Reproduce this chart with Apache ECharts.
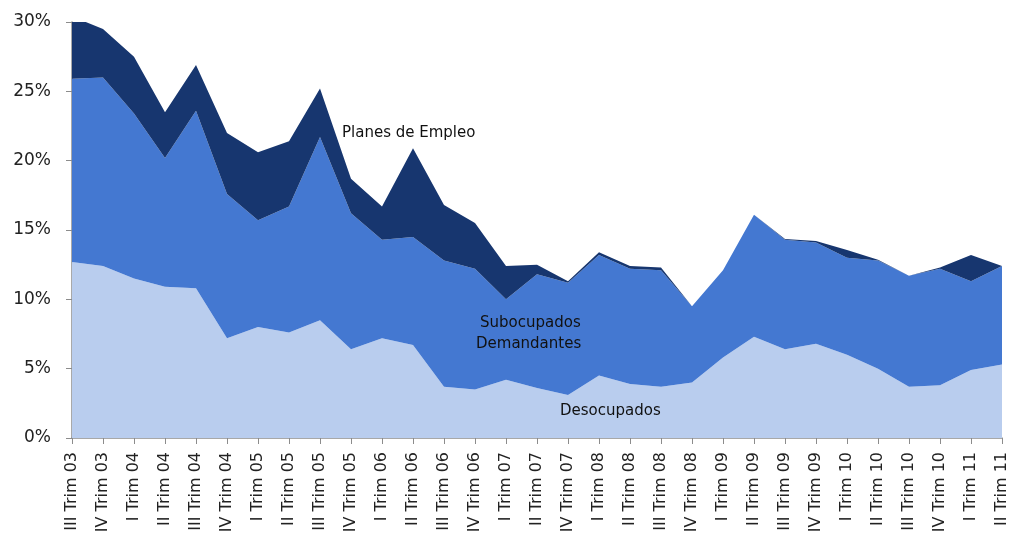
<!DOCTYPE html>
<html>
<head>
<meta charset="utf-8">
<script src="https://cdn.jsdelivr.net/npm/echarts@6/dist/echarts.min.js"></script>
<style>
  html, body { margin: 0; padding: 0; background: #fff; }
  #chart { width: 1017px; height: 542px; }
</style>
</head>
<body>
<div id="chart"></div>
<script>
// trimestres (falta III Trim 07)
var trimestres = [
  'III Trim 03', 'IV Trim 03',
  'I Trim 04', 'II Trim 04', 'III Trim 04', 'IV Trim 04',
  'I Trim 05', 'II Trim 05', 'III Trim 05', 'IV Trim 05',
  'I Trim 06', 'II Trim 06', 'III Trim 06', 'IV Trim 06',
  'I Trim 07', 'II Trim 07', 'IV Trim 07',
  'I Trim 08', 'II Trim 08', 'III Trim 08', 'IV Trim 08',
  'I Trim 09', 'II Trim 09', 'III Trim 09', 'IV Trim 09',
  'I Trim 10', 'II Trim 10', 'III Trim 10', 'IV Trim 10',
  'I Trim 11', 'II Trim 11'
];

// % de la PEA
var desocupados = [12.7, 12.4, 11.5, 10.9, 10.8, 7.2, 8.0, 7.6, 8.5, 6.4,
  7.2, 6.7, 3.7, 3.5, 4.2, 3.6, 3.1, 4.5, 3.9, 3.7,
  4.0, 5.8, 7.3, 6.4, 6.8, 6.0, 5.0, 3.7, 3.8, 4.9, 5.3];
var subocupados = [13.2, 13.6, 11.9, 9.3, 12.8, 10.4, 7.7, 9.1, 13.2, 9.8,
  7.1, 7.8, 9.1, 8.7, 5.8, 8.2, 8.1, 8.7, 8.3, 8.4,
  5.5, 6.3, 8.8, 7.9, 7.3, 7.0, 7.8, 8.0, 8.4, 6.4, 7.1];
var planes = [4.5, 3.5, 4.1, 3.3, 3.3, 4.4, 4.9, 4.7, 3.5, 2.5,
  2.4, 6.4, 4.0, 3.3, 2.4, 0.7, 0.1, 0.2, 0.2, 0.2,
  0.0, 0.0, 0.0, 0.05, 0.1, 0.55, 0.05, 0.0, 0.1, 1.9, 0.0];

var yTicks = [0, 5, 10, 15, 20, 25, 30];

var myChart = echarts.init(document.getElementById('chart'));

function capa(nombre, datos, color) {
  return {
    name: nombre,
    type: 'line',
    stack: 'total',
    data: datos,
    symbol: 'none',
    lineStyle: { width: 0 },
    areaStyle: { color: color, opacity: 1 },
    clip: true
  };
}

var fuente = '15px "DejaVu Sans"';

var option = {
  animation: false,
  grid: { left: 72, right: 15, top: 22, bottom: 104 },
  xAxis: {
    type: 'category',
    data: trimestres,
    boundaryGap: false,
    axisLine: { lineStyle: { color: '#8c8c8c', width: 1.5 } },
    axisTick: { show: true, length: 6, alignWithLabel: true, lineStyle: { color: '#8c8c8c' } },
    axisLabel: {
      interval: 0,
      rotate: 90,
      margin: 14,
      color: '#222',
      fontFamily: 'DejaVu Sans',
      fontSize: 16
    }
  },
  yAxis: {
    type: 'value',
    min: yTicks[0],
    max: yTicks[yTicks.length - 1],
    interval: 5,
    splitLine: { show: false },
    axisLine: { show: true, lineStyle: { color: '#8c8c8c', width: 1.5 } },
    axisTick: { show: true, length: 6, lineStyle: { color: '#8c8c8c' } },
    axisLabel: {
      formatter: '{value}%',
      margin: 21,
      color: '#222',
      fontFamily: 'DejaVu Sans',
      fontSize: 17
    }
  },
  series: [
    capa('Desocupados', desocupados, '#b9cdee'),
    capa('Subocupados Demandantes', subocupados, '#4478d1'),
    capa('Planes de Empleo', planes, '#17366f')
  ],
  graphic: [
    { type: 'text', left: 342, top: 126, z: 100,
      style: { text: 'Planes de Empleo', font: fuente, fill: '#111' } },
    { type: 'text', left: 480, top: 316, z: 100,
      style: { text: 'Subocupados', font: fuente, fill: '#111' } },
    { type: 'text', left: 476, top: 337, z: 100,
      style: { text: 'Demandantes', font: fuente, fill: '#111' } },
    { type: 'text', left: 560, top: 404, z: 100,
      style: { text: 'Desocupados', font: fuente, fill: '#111' } }
  ]
};
myChart.setOption(option, true);
</script>
</body>
</html>
